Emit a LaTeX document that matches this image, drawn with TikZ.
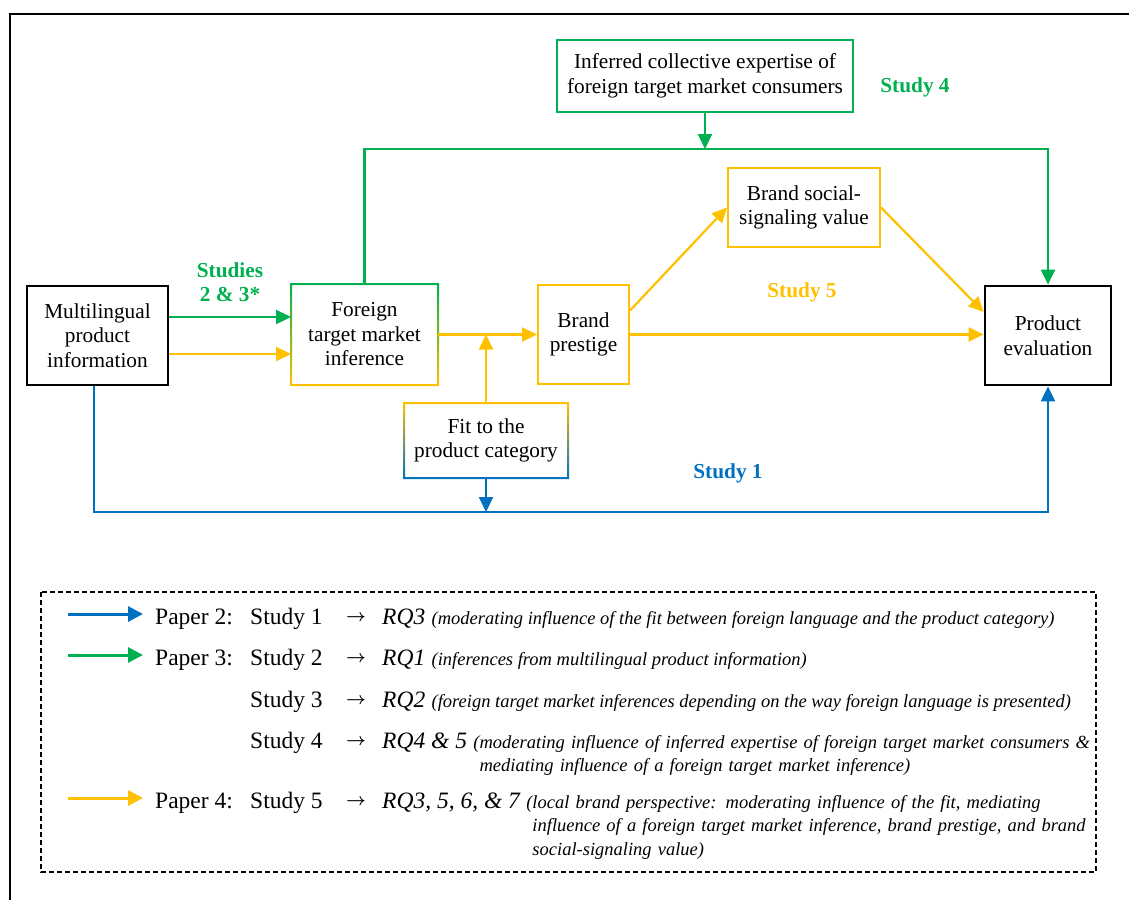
\documentclass[tikz,border=0pt]{standalone}
\usepackage{amsmath}
\usepackage{fontspec}
\setmainfont{Liberation Serif}
\usepackage{tikz}
\usetikzlibrary{arrows.meta,positioning,calc}
\definecolor{studygreen}{HTML}{00B050}
\definecolor{studyyellow}{HTML}{FFC000}
\definecolor{studyblue}{HTML}{0070C0}
\tikzset{
    varbox/.style={draw,line width=2pt,inner sep=0pt,align=center,
      font=\fontsize{21.3pt}{24.5pt}\selectfont},
    keyvar/.style={varbox,draw=black,line width=2.8pt},
    flowarrow/.style={-{Triangle[length=15pt,width=14pt]},line width=2.2pt},
    studylabel/.style={inner sep=0pt,align=center,
      font=\fontsize{21.3pt}{24.5pt}\selectfont\bfseries},
    legarrow/.style={-{Triangle[length=15pt,width=15pt]},line width=3pt},
    legrow/.style={anchor=base west,inner sep=0pt,
      font=\fontsize{23.5pt}{28pt}\selectfont},
    legto/.style={anchor=base west,inner sep=0pt,yshift=3pt,
      font=\fontsize{19pt}{24pt}\selectfont},
    legrq/.style={legrow,font=\fontsize{23.5pt}{28pt}\selectfont\itshape},
    rqnote/.style={inner sep=0pt,align=left,
      font=\fontsize{18.5pt}{23.5pt}\selectfont\itshape}
}

\begin{document}
\begin{tikzpicture}[x=1pt,y=-1pt]
  \useasboundingbox (0,0) rectangle (1129,900);
  \draw[line width=2pt] (10,900) -- (10,14) -- (1129,14);

  % variables of the model
  \node[keyvar,minimum width=141pt,minimum height=99pt] (multi) at (97.5,335.5)
    {Multilingual\\product\\information};
  \node[varbox,draw=none,minimum width=145pt,minimum height=99pt] (fti) at (364.5,334.5)
    {Foreign\\target market\\inference};
  \node[varbox,draw=studygreen,minimum width=296pt,minimum height=72pt] (expert) at (705,76)
    {Inferred collective expertise of\\foreign target market consumers};
  \node[varbox,draw=studyyellow,minimum width=91pt,minimum height=99pt] (prestige) at (583.5,334.5)
    {Brand\\prestige};
  \node[varbox,draw=studyyellow,minimum width=152pt,minimum height=79pt] (signal) at (804,207.5)
    {Brand social-\\signaling value};
  \node[keyvar,minimum width=126pt,minimum height=99pt] (eval) at (1048,335.5)
    {Product\\evaluation};
  \node[varbox,draw=none,minimum width=162pt,minimum height=73pt] (fit) at (486,440.5)
    {Fit to the\\product category};

  % two-coloured frames
  \shade[top color=studygreen,bottom color=studyyellow,even odd rule]
    ([shift={(-1pt,1pt)}]fti.north west) rectangle ([shift={(1pt,-1pt)}]fti.south east)
    ([shift={(1pt,-1pt)}]fti.north west) rectangle ([shift={(-1pt,1pt)}]fti.south east);
  \shade[top color=studyyellow,middle color=studyyellow,bottom color=studyblue,even odd rule]
    ([shift={(-1pt,1pt)}]fit.north west) rectangle ([shift={(1pt,-1pt)}]fit.south east)
    ([shift={(1pt,-1pt)}]fit.north west) rectangle ([shift={(-1pt,1pt)}]fit.south east);

  \coordinate (greenrail) at (0,149);
  \coordinate (bluerail) at (0,512);

  \draw[flowarrow,studygreen] ([yshift=18.5pt]multi.east) -- ([yshift=18.5pt]multi.east -| fti.west);
  \draw[flowarrow,studyyellow] ([yshift=-18.5pt]multi.east) -- ([yshift=-18.5pt]multi.east -| fti.west);
  \draw[flowarrow,studyyellow] (fti.east) -- (prestige.west);
  \draw[flowarrow,studyyellow] (fit.north) -- (fit.north |- fti.east);
  \draw[flowarrow,studyyellow] ([yshift=24pt]prestige.east) -- (signal.west);
  \draw[flowarrow,studyyellow] (signal.east) -- ([yshift=23.5pt]eval.west);
  \draw[flowarrow,studyyellow] (prestige.east) -- (prestige.east -| eval.west);
  \draw[flowarrow,studygreen] (fti.north) |- (eval.north |- greenrail) -- (eval.north);
  \draw[flowarrow,studygreen] (expert.south) -- (expert.south |- greenrail);
  \draw[flowarrow,studyblue] ([xshift=-3.5pt]multi.south) |- (eval.south |- bluerail) -- (eval.south);
  \draw[flowarrow,studyblue] (fit.south) -- (fit.south |- bluerail);

  \node[studylabel,text=studygreen] (lab23) at (230,282) {Studies\\2 \& 3*};
  \node[studylabel,text=studygreen] (lab4) at (915,87) {Study 4};
  \node[studylabel,text=studyyellow] (lab5) at (802,292) {Study 5};
  \node[studylabel,text=studyblue] (lab1) at (728,473) {Study 1};

  % legend
  \draw[line width=1.2pt,dash pattern=on 5pt off 3pt] (41,592) rectangle (1096,872);

  \node[legrow] (paper2) at (155,624) {Paper 2:};
  \node[legrow] (leg1study) at (250,624) {Study 1};
  \node[legto] (leg1to) at (346,624) {$\boldsymbol{\rightarrow}$};
  \node[legrq] (rq1) at (382,624) {RQ3};
  \node[rqnote,base right=6pt of rq1] (note1)
    {(moderating influence of the fit between foreign language and the product category)};

  \node[legrow] (paper3) at (155,665) {Paper 3:};
  \node[legrow] (leg2study) at (250,665) {Study 2};
  \node[legto] (leg2to) at (346,665) {$\boldsymbol{\rightarrow}$};
  \node[legrq] (rq2) at (382,665) {RQ1};
  \node[rqnote,base right=6pt of rq2] (note2)
    {(inferences from multilingual product information)};

  \node[legrow] (leg3study) at (250,707) {Study 3};
  \node[legto] (leg3to) at (346,707) {$\boldsymbol{\rightarrow}$};
  \node[legrq] (rq3) at (382,707) {RQ2};
  \node[rqnote,base right=6pt of rq3] (note3)
    {(foreign target market inferences depending on the way foreign language is presented)};

  \node[legrow] (leg4study) at (250,748) {Study 4};
  \node[legto] (leg4to) at (346,748) {$\boldsymbol{\rightarrow}$};
  \node[legrq] (rq4) at (382,748) {RQ4 \& 5};
  \node[rqnote,text width=640pt,base right=6pt of rq4] (note4)
    {(moderating influence of inferred expertise of foreign target market consumers \&\\
     \hphantom{(}mediating influence of a foreign target market inference)};

  \node[legrow] (paper4) at (155,808) {Paper 4:};
  \node[legrow] (leg5study) at (250,808) {Study 5};
  \node[legto] (leg5to) at (346,808) {$\boldsymbol{\rightarrow}$};
  \node[legrq] (rq5) at (382,808) {RQ3, 5, 6, \& 7};
  \node[rqnote,text width=560pt,base right=6pt of rq5] (note5)
    {(local brand perspective: moderating influence of the fit, mediating\\
     \hphantom{(}influence of a foreign target market inference, brand prestige, and brand\\
     \hphantom{(}social-signaling value)};

  \coordinate (legblue) at (68,614);
  \coordinate (leggreen) at (68,655);
  \coordinate (legyellow) at (68,798);
  \draw[legarrow,studyblue] (legblue) -- ([xshift=-12pt]legblue -| paper2.west);
  \draw[legarrow,studygreen] (leggreen) -- ([xshift=-12pt]leggreen -| paper3.west);
  \draw[legarrow,studyyellow] (legyellow) -- ([xshift=-12pt]legyellow -| paper4.west);
\end{tikzpicture}
\end{document}
